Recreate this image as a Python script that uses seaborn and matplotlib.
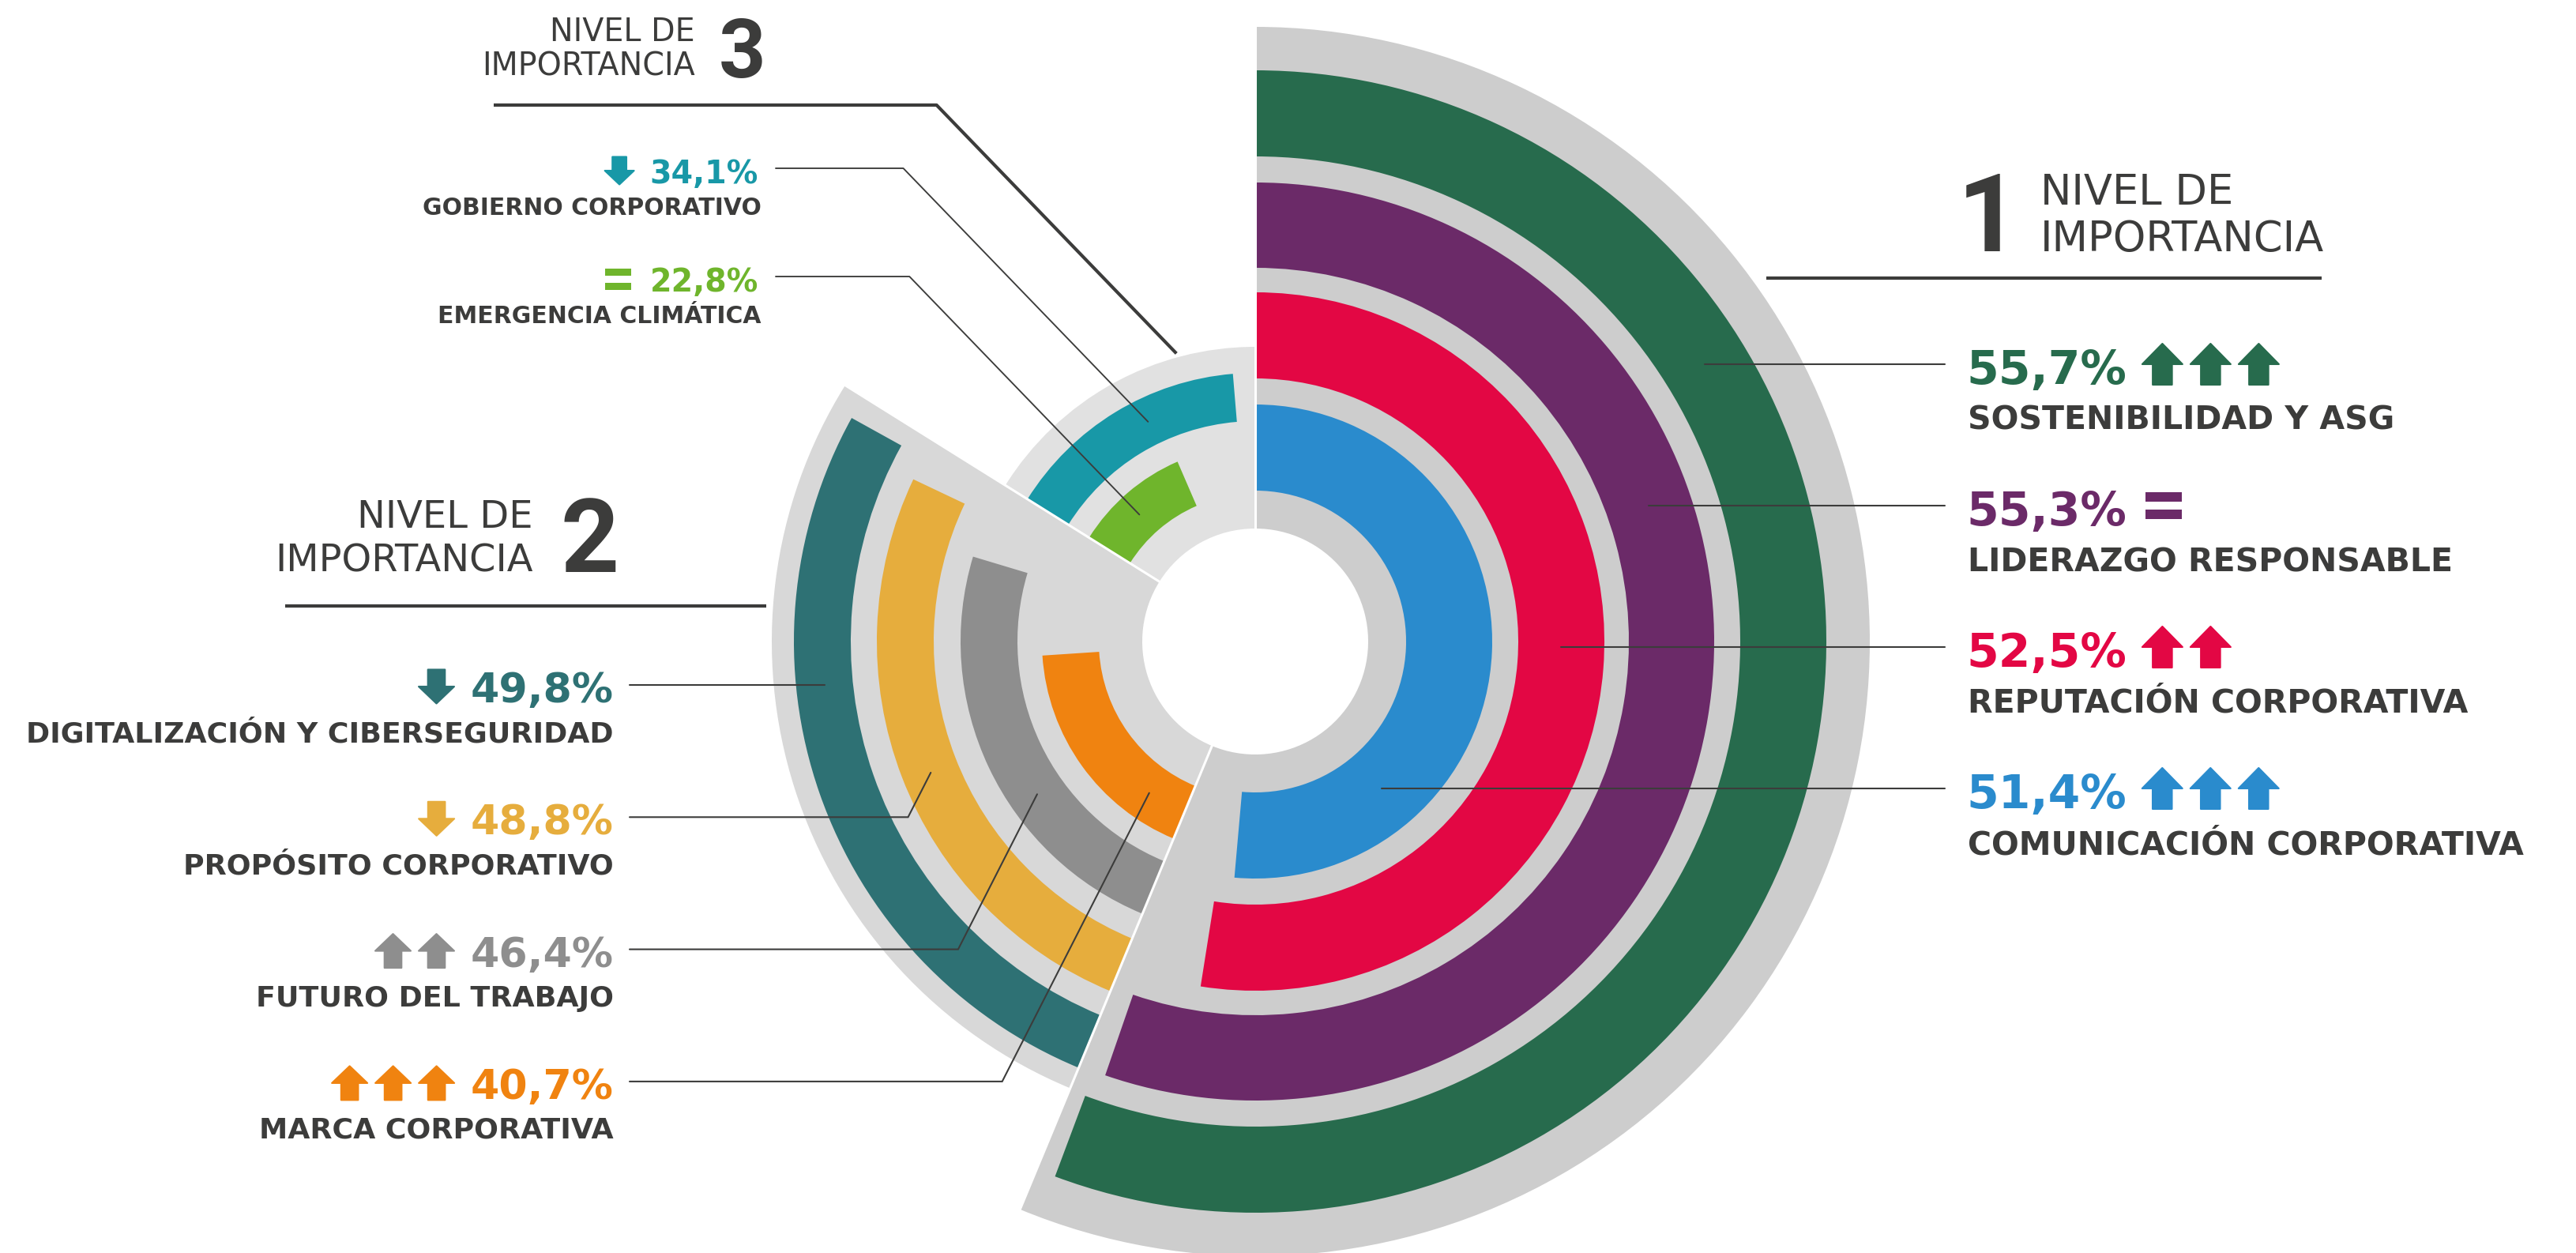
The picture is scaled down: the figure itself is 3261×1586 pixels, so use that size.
import numpy as np
import matplotlib
matplotlib.use("Agg")
import matplotlib.pyplot as plt
from matplotlib import font_manager
from matplotlib.patches import Polygon, Rectangle
import seaborn as sns

# ---------------- data (inner ring -> outer ring) ----------------
level1_labels = ["COMUNICACIÓN CORPORATIVA", "REPUTACIÓN CORPORATIVA",
                 "LIDERAZGO RESPONSABLE", "SOSTENIBILIDAD Y ASG"]
level1_values = [51.4, 52.5, 55.3, 55.7]
level1_trend = [3, 2, 0, 3]          # +n: n up arrows, -n: n down arrows, 0: "="

level2_labels = ["MARCA CORPORATIVA", "FUTURO DEL TRABAJO",
                 "PROPÓSITO CORPORATIVO", "DIGITALIZACIÓN Y CIBERSEGURIDAD"]
level2_values = [40.7, 46.4, 48.8, 49.8]
level2_trend = [3, 2, -1, -1]

level3_labels = ["EMERGENCIA CLIMÁTICA", "GOBIERNO CORPORATIVO"]
level3_values = [22.8, 34.1]
level3_trend = [0, -1]

level_titles = ["NIVEL DE\nIMPORTANCIA", "NIVEL DE\nIMPORTANCIA", "NIVEL DE\nIMPORTANCIA"]
level_numbers = ["1", "2", "3"]

# ---------------- style ----------------
sns.set_theme(style="white")
plt.rcParams["font.family"] = ["DejaVu Sans"]

_names = {f.name for f in font_manager.fontManager.ttflist}
NUM_FONT = next((f for f in ["Roboto", "Open Sans", "DejaVu Sans"] if f in _names), "DejaVu Sans")

pal1 = sns.color_palette(["#2A8BCD", "#E30744", "#6B2A68", "#276B4D"])
pal2 = sns.color_palette(["#F08310", "#8E8E8E", "#E6AD3D", "#2E7174"])
pal3 = sns.color_palette(["#6FB52C", "#1898A7"])
DARK = "#3C3C3B"

W, H = 3262, 1586
CX, CY = 1589, 812
HOLE = 143

# section geometry: angular span, background outer radius, bg colour,
# ring radii (inner, outer), angular scale (origin, degrees per %)
L1 = dict(span=(0, 202.5), bg_r=778, bg="#CDCDCD",
          rings=[(191, 300), (333, 442), (473, 581), (614, 723)], origin=0.0, k=3.6)
L2 = dict(span=(202.5, 302), bg_r=612, bg="#D8D8D8",
          rings=[(198, 270), (301, 373), (407, 479), (512, 584)], origin=119.7, k=3.6)
L3 = dict(span=(302, 360), bg_r=373, bg="#E1E1E1",
          rings=[(187, 248), (279, 340)], origin=299.1, k=1.646)

fig = plt.figure(figsize=(W / 100, H / 100), dpi=100, facecolor="white")
R = 800
ax = fig.add_axes([(CX - R) / W, (H - CY - R) / H, 2 * R / W, 2 * R / H], projection="polar")
ax.set_theta_zero_location("N")
ax.set_theta_direction(-1)
ax.set_ylim(0, R)
ax.axis("off")


def draw_section(L, values, pal):
    t0, t1 = L["span"]
    ax.bar(np.deg2rad((t0 + t1) / 2), L["bg_r"] - HOLE, width=np.deg2rad(t1 - t0),
           bottom=HOLE, color=L["bg"], edgecolor="none", linewidth=0, align="center")
    for v, (ri, ro), c in zip(values, L["rings"], pal):
        end = L["origin"] + L["k"] * v
        ax.bar(np.deg2rad((t0 + end) / 2), ro - ri, width=np.deg2rad(end - t0),
               bottom=ri, color=c, edgecolor="none", linewidth=0, align="center")


draw_section(L1, level1_values, pal1)
draw_section(L2, level2_values, pal2)
draw_section(L3, level3_values, pal3)

# white separators between sections
for th, rmax in [(0, 780), (202.5, 780), (302, 614)]:
    ax.plot([np.deg2rad(th)] * 2, [HOLE - 2, rmax], color="white", lw=2.2, solid_capstyle="butt")

# ---------------- overlay (pixel coordinates, y down) ----------------
ov = fig.add_axes([0, 0, 1, 1], zorder=5)
ov.set_xlim(0, W)
ov.set_ylim(H, 0)
ov.axis("off")
ov.patch.set_alpha(0)
renderer = fig.canvas.get_renderer()


def text_x_extent(t):
    bb = t.get_window_extent(renderer=renderer)
    return bb.x0, bb.x1


def pol2px(theta_deg, r):
    t = np.deg2rad(theta_deg)
    return CX + r * np.sin(t), CY - r * np.cos(t)


def arrow(xl, yc, w, h, color, up=True):
    s = -1 if up else 1
    yt = yc + s * h / 2       # tip side
    yb = yc - s * h / 2       # stem end
    yh = yc                   # head base
    pts = [(xl, yh), (xl + w / 2, yt), (xl + w, yh), (xl + 0.74 * w, yh),
           (xl + 0.74 * w, yb), (xl + 0.26 * w, yb), (xl + 0.26 * w, yh)]
    ov.add_patch(Polygon(pts, closed=True, facecolor=color, edgecolor=color,
                         linewidth=1.5, joinstyle="round"))


def equal(xl, yc, w, t, gap, color):
    ov.add_patch(Rectangle((xl, yc - gap / 2 - t), w, t, color=color, lw=0))
    ov.add_patch(Rectangle((xl, yc + gap / 2), w, t, color=color, lw=0))


def trend_marks(trend, x_first, step, yc, w, h, color, eq_t, eq_gap):
    if trend == 0:
        equal(x_first, yc, w * 0.9, eq_t, eq_gap, color)
    else:
        for i in range(abs(trend)):
            arrow(x_first + i * step, yc, w, h, color, up=trend > 0)


def pct(v):
    return f"{v:.1f}%".replace(".", ",")


LW_THIN = 1.5
LW_HEAD = 3.0

# ---- level 1 (right side) ----
rows1 = [461 + 179 * i for i in range(4)]          # outer ring first
for i, j in enumerate(range(3, -1, -1)):
    y = rows1[i]
    ri, ro = L1["rings"][j]
    rm = (ri + ro) / 2
    xe = CX + np.sqrt(rm ** 2 - (y - CY) ** 2)
    ov.plot([xe, 2462], [y, y], color=DARK, lw=LW_THIN)
    tp = ov.text(2489, y + 25, pct(level1_values[j]), color=pal1[j], fontsize=42,
                 fontweight="bold", ha="left", va="baseline")
    ov.text(2491, y + 83, level1_labels[j], color=DARK, fontsize=29.5,
            fontweight="bold", ha="left", va="baseline")
    n = level1_trend[j]
    x0 = text_x_extent(tp)[1] + (20 if n != 0 else 24)
    trend_marks(n, x0, 61, y, 51, 52, pal1[j], 12, 10)

ov.text(2478, 318, level_numbers[0], color=DARK, fontsize=99, fontweight="bold",
        family=NUM_FONT, ha="left", va="baseline")
t1a, t1b = level_titles[0].split("\n")
ov.text(2583, 259, t1a, color=DARK, fontsize=38, ha="left", va="baseline")
ov.text(2583, 318, t1b, color=DARK, fontsize=38, ha="left", va="baseline")
ov.plot([2236, 2939], [352, 352], color=DARK, lw=LW_HEAD, solid_capstyle="butt")

# ---- level 2 (left side) ----
rows2 = [867 + 167.3 * i for i in range(4)]
end_ang2 = [None, 248.0, 235.0, 215.0]   # leader end angles (outer -> inner)
slope2 = np.tan(np.deg2rad(63))
for i, j in enumerate(range(3, -1, -1)):
    y = rows2[i]
    ri, ro = L2["rings"][j]
    rm = (ri + ro) / 2
    if end_ang2[i] is None:
        xe = CX - np.sqrt(rm ** 2 - (y - CY) ** 2)
        ov.plot([797, xe], [y, y], color=DARK, lw=LW_THIN)
    else:
        xe, ye = pol2px(end_ang2[i], rm)
        xk = xe - (y - ye) / slope2
        ov.plot([797, xk, xe], [y, y, ye], color=DARK, lw=LW_THIN, solid_joinstyle="miter")
    tp = ov.text(777, y + 22, pct(level2_values[j]), color=pal2[j], fontsize=37.5,
                 fontweight="bold", ha="right", va="baseline")
    ov.text(777, y + 72, level2_labels[j], color=DARK, fontsize=26.2,
            fontweight="bold", ha="right", va="baseline")
    n = level2_trend[j]
    cnt = max(abs(n), 1)
    xr = text_x_extent(tp)[0] - 21
    x0 = xr - 45 - 55 * (cnt - 1)
    trend_marks(n, x0, 55, y + 2, 45, 43, pal2[j], 10, 9)

ov.text(710, 724, level_numbers[1], color=DARK, fontsize=93, fontweight="bold",
        family=NUM_FONT, ha="left", va="baseline")
t2a, t2b = level_titles[1].split("\n")
ov.text(675, 668, t2a, color=DARK, fontsize=34.5, ha="right", va="baseline")
ov.text(675, 724, t2b, color=DARK, fontsize=34.5, ha="right", va="baseline")
ov.plot([361, 970], [767, 767], color=DARK, lw=LW_HEAD, solid_capstyle="butt")

# ---- level 3 (top left) ----
rows3 = [213, 350]
end_ang3 = [334.0, 317.6]
slope3 = np.tan(np.deg2rad(46))
for i, j in enumerate(range(1, -1, -1)):
    y = rows3[i]
    ri, ro = L3["rings"][j]
    rm = (ri + ro) / 2
    xe, ye = pol2px(end_ang3[i], rm)
    xk = xe - (ye - y) / slope3
    ov.plot([982, xk, xe], [y, y, ye], color=DARK, lw=LW_THIN * 0.9)
    tp = ov.text(960, y + 19, pct(level3_values[j]), color=pal3[j], fontsize=28.5,
                 fontweight="bold", ha="right", va="baseline")
    ov.text(964, y + 59, level3_labels[j], color=DARK, fontsize=21.5,
            fontweight="bold", ha="right", va="baseline")
    n = level3_trend[j]
    xr = text_x_extent(tp)[0] - 20
    trend_marks(n, xr - 37, 45, y + 3, 37, 35, pal3[j], 9, 9)

ov.text(910, 98, level_numbers[2], color=DARK, fontsize=75, fontweight="bold",
        family=NUM_FONT, ha="left", va="baseline")
t3a, t3b = level_titles[2].split("\n")
ov.text(880, 52, t3a, color=DARK, fontsize=28.5, ha="right", va="baseline")
ov.text(880, 96, t3b, color=DARK, fontsize=28.5, ha="right", va="baseline")
xe, ye = pol2px(344.7, 378)
xk = xe - (ye - 133) / slope3
ov.plot([625, xk, xe], [133, 133, ye], color=DARK, lw=LW_HEAD, solid_capstyle="butt")

fig.savefig("out.png", dpi=100, facecolor="white")
